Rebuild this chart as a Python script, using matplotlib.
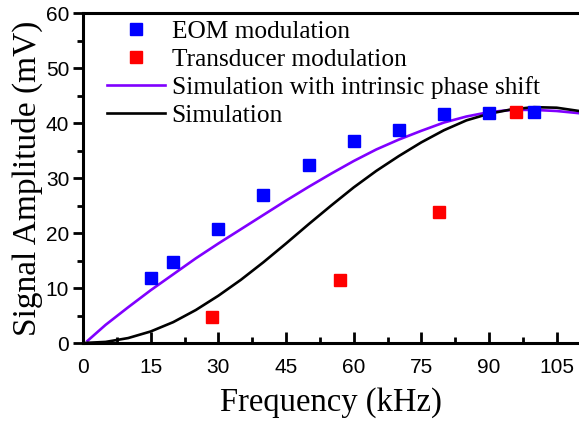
import matplotlib.pyplot as plt
from matplotlib.ticker import MultipleLocator

# measured points
eom_f = [15, 20, 30, 40, 50, 60, 70, 80, 90, 100]
eom_amp = [11.8, 14.8, 20.8, 27.0, 32.3, 36.7, 38.8, 41.7, 41.9, 42.1]

trans_f = [28.5, 57, 79, 96]
trans_amp = [4.7, 11.5, 23.9, 42.0]

# simulated curves
sim_f = [1, 5, 10, 15, 20, 25, 30, 35, 40, 45, 50, 55, 60, 65, 70, 75,
         80, 85, 90, 95, 100, 105, 110]
sim_phase = [0.4, 3.3, 6.5, 9.6, 12.5, 15.4, 18.1, 20.7, 23.3, 25.9, 28.4,
             30.8, 33.1, 35.2, 37.0, 38.6, 40.1, 41.2, 42.0, 42.4, 42.4,
             42.2, 41.8]
sim_f0 = [0, 5, 10, 15, 20, 25, 30, 35, 40, 45, 50, 55, 60, 65, 70, 75,
          80, 85, 90, 95, 100, 105, 110]
sim_plain = [0.0, 0.2, 0.9, 2.1, 3.8, 6.0, 8.6, 11.5, 14.7, 18.1, 21.6,
             25.0, 28.3, 31.3, 34.0, 36.5, 38.7, 40.5, 41.7, 42.5, 42.9,
             42.8, 42.2]

serif = 'Liberation Serif'
sans = 'Liberation Sans'

fig = plt.figure(figsize=(5.79, 4.24), dpi=100)
ax = fig.add_axes([0.1434, 0.191, 0.857, 0.778])

ax.plot(eom_f, eom_amp, 's', color='#0000ff', markersize=8.5, label='EOM modulation', zorder=3)
ax.plot(trans_f, trans_amp, 's', color='#ff0000', markersize=8.5, label='Transducer modulation', zorder=4)
ax.plot(sim_f, sim_phase, color='#8000ff', lw=1.9, label='Simulation with intrinsic phase shift', zorder=2)
ax.plot(sim_f0, sim_plain, color='black', lw=1.9, label='Simulation', zorder=2)

ax.set_xlim(0, 110)
ax.set_ylim(0, 60)
ax.xaxis.set_major_locator(MultipleLocator(15))
ax.xaxis.set_minor_locator(MultipleLocator(7.5))
ax.yaxis.set_major_locator(MultipleLocator(10))
ax.yaxis.set_minor_locator(MultipleLocator(5))

ax.tick_params(axis='x', which='major', direction='in', length=8, width=2, pad=11)
ax.tick_params(axis='x', which='minor', direction='in', length=4.5, width=2)
ax.tick_params(axis='y', which='major', direction='out', length=7, width=2, pad=3)
ax.tick_params(axis='y', which='minor', direction='out', length=4, width=2)
for lab in ax.get_xticklabels() + ax.get_yticklabels():
    lab.set_fontfamily(sans)
    lab.set_fontsize(15)

for side in ['left', 'bottom', 'top']:
    ax.spines[side].set_linewidth(2.2)
ax.spines['right'].set_visible(False)

ax.set_xlabel('Frequency (kHz)', fontfamily=serif, fontsize=23.5, labelpad=7)
ax.set_ylabel('Signal Amplitude (mV)', fontfamily=serif, fontsize=24, labelpad=2)

leg = ax.legend(loc='upper left', bbox_to_anchor=(0.048, 0.978), frameon=False,
                prop={'family': serif, 'size': 18.3}, borderpad=0, borderaxespad=0,
                handlelength=2.3, handletextpad=0.25, labelspacing=0.2)

fig.savefig('out.png', dpi=100)
